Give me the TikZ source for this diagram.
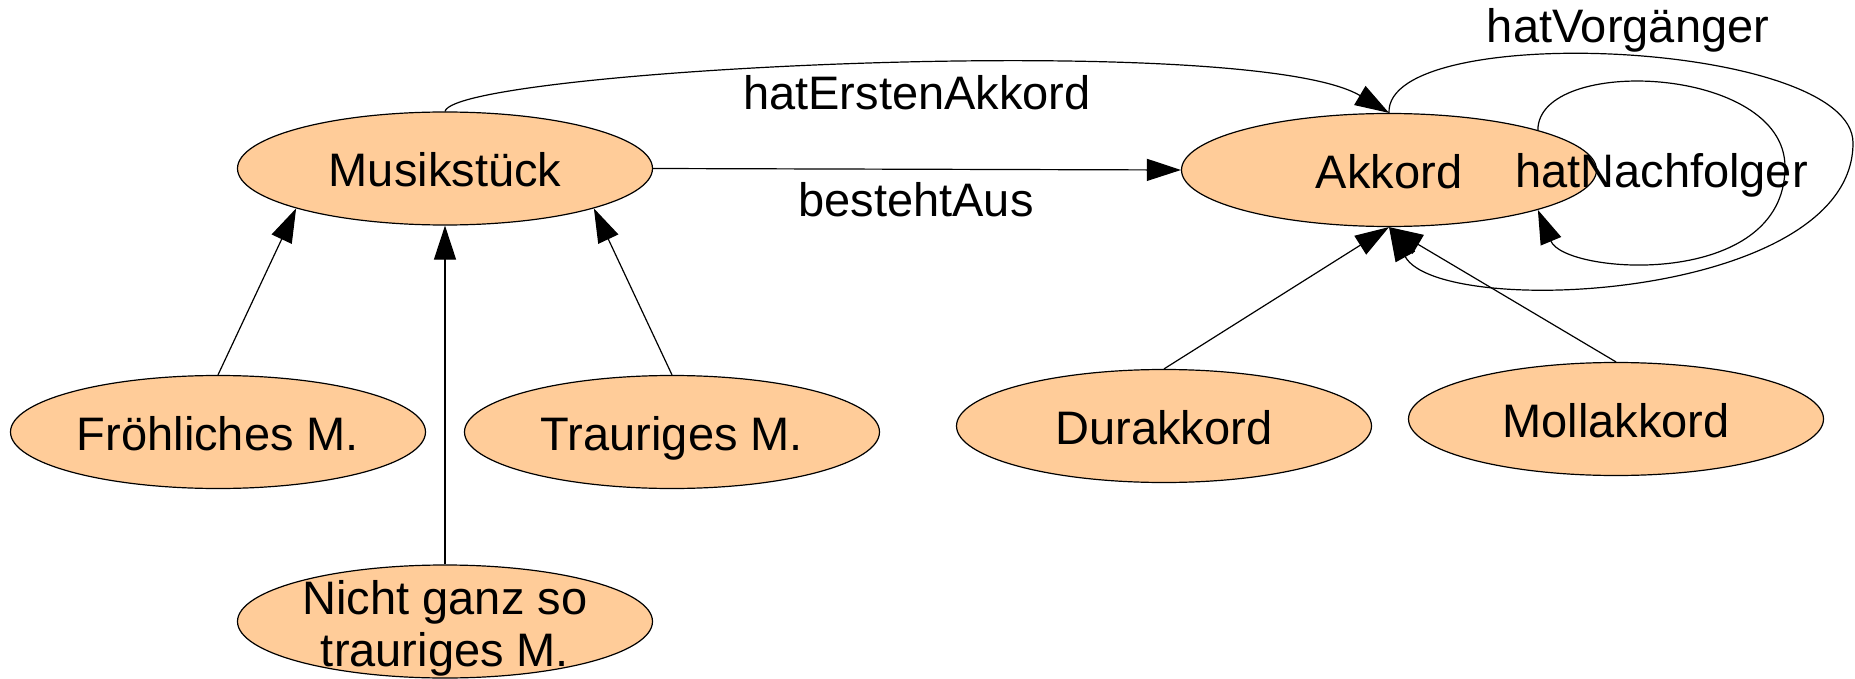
\documentclass[tikz,border=0pt]{standalone}
\usepackage{fontspec}
\setmainfont{Liberation Sans}
\usetikzlibrary{arrows.meta,shapes.geometric}
\definecolor{nodefill}{HTML}{FFCC99}
\begin{document}
\begin{tikzpicture}[x=1pt,y=-1pt,
  every node/.style={font=\fontsize{47}{52}\selectfont},
  concept/.style={ellipse,draw=black,fill=nodefill,line width=1.2pt,
    minimum width=415pt,minimum height=113pt,inner sep=0pt,
    text height=37pt,text depth=0pt},
  rel/.style={draw=black,line width=1.2pt,-{Triangle[length=34pt,width=22pt]}},
  rellabel/.style={anchor=base,inner sep=0pt}]
\useasboundingbox (0,0) rectangle (1855,679);

% classes
\node[concept] (mu) at (445,168.5) {Musikstück};
\node[concept] (ak) at (1389,170) {Akkord};
\node[concept] (fr) at (218,432) {Fröhliches M.};
\node[concept] (tr) at (672,432) {Trauriges M.};
\node[concept,text height=0pt,text depth=0pt] (ng) at (445,621.5)
  {\smash{\raisebox{-44.5pt}{\begin{tabular}[b]{@{}c@{}}Nicht ganz so\\trauriges M.\end{tabular}}}};
\node[concept] (du) at (1164,426) {Durakkord};
\node[concept] (mo) at (1616,419) {Mollakkord};

% subclass relations
\draw[rel] (fr.north) -- (mu.195);
\draw[rel] (tr.north) -- (mu.345);
\draw[rel] (ng.north) -- (mu.south);
\draw[rel] (du.north) -- (ak.south);
\draw[rel] (mo.north) -- (ak.south);

% properties
\draw[rel] (mu.east) -- (ak.west);
\draw[rel] (mu.north) .. controls +(10,-42) and +(-139,-83) .. (ak.north);
\coordinate (vEast) at (1853,143);
\draw[rel] (ak.north) .. controls +(-4,-93) and (1853,40) .. (vEast)
  .. controls (1853,300) and (1440,320) .. (ak.south);
\coordinate (nEast) at (1785,167);
\draw[rel] (ak.15) .. controls +(0,-75) and (1785,65) .. (nEast)
  .. controls (1785,290) and (1565,275) .. (ak.345);

% property names
\node[rellabel] (lErst) at (917,110) {hatErstenAkkord};
\node[rellabel] (lBest) at (916,217) {bestehtAus};
\node[rellabel] (lVorg) at (1628,43) {hatVorgänger};
\node[rellabel] (lNach) at (1661.5,188) {hatNachfolger};
\end{tikzpicture}
\end{document}
